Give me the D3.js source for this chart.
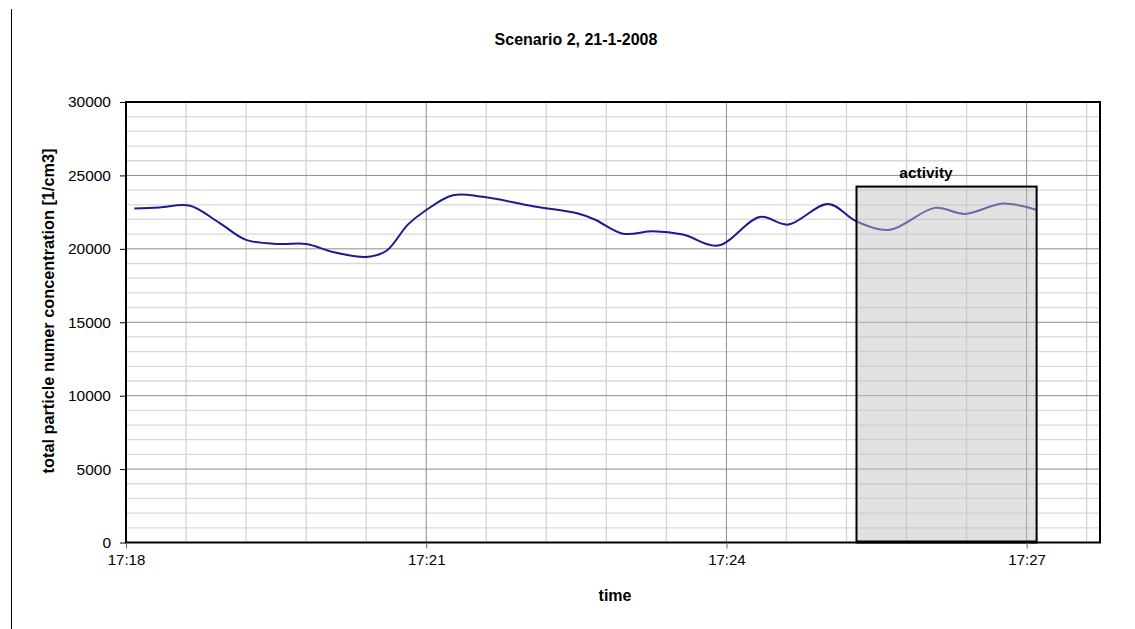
<!DOCTYPE html>
<html>
<head>
<meta charset="utf-8">
<script src="https://cdn.jsdelivr.net/npm/d3@7"></script>
<style>
  body { margin: 0; background: #fff; }
  text { font-family: Arial, "Liberation Sans", sans-serif; fill: #000; }
</style>
</head>
<body>
<svg id="chart"></svg>
<script>
// data
let times = ["17:18:05", "17:18:20", "17:18:38", "17:18:56", "17:19:12", "17:19:32", "17:19:48", "17:20:04",
    "17:20:24", "17:20:36", "17:20:49", "17:20:59", "17:21:16", "17:21:34", "17:22:04", "17:22:31",
    "17:22:41", "17:22:58", "17:23:16", "17:23:34", "17:23:55", "17:24:20", "17:24:37", "17:25:01",
    "17:25:18", "17:25:38", "17:26:05", "17:26:23", "17:26:46", "17:27:06"];
let concentration = [22750, 22820, 22950, 21770, 20610, 20330, 20330, 19790,
    19450, 19850, 21650, 22560, 23650, 23540, 22900, 22400,
    22000, 21030, 21190, 20970, 20220, 22170, 21650, 23060,
    21870, 21300, 22790, 22380, 23080, 22650];

let xTickLabels = ["17:18", "17:21", "17:24", "17:27"];
let yTickValues = [0, 5000, 10000, 15000, 20000, 25000, 30000];

// the shaded "activity" window
let activityStart = "17:25:18";
let activityEnd = "17:27:06";
let activityTop = 24240;

let width = 1135, height = 629;
let plot = { left: 126, right: 1100, top: 102, bottom: 542.5 };

let parse = d3.timeParse("%H:%M:%S");
let parseHM = d3.timeParse("%H:%M");
let data = times.map(function (t, i) { return { t: parse(t), v: concentration[i] } });

let x = d3.scaleTime()
    .domain([parse("17:18:00"), parse("17:27:44")])
    .range([plot.left, plot.right]);

let y = d3.scaleLinear()
    .domain([0, 30000])
    .range([plot.bottom, plot.top]);

let svg = d3.select("#chart")
    .attr("width", width)
    .attr("height", height);

// page edge line on the left
svg.append("line")
    .attr("x1", 11.5).attr("x2", 11.5)
    .attr("y1", 9).attr("y2", height)
    .attr("stroke", "#000");

// minor grid, horizontal every 1000
svg.append("g")
    .selectAll("line")
    .data(d3.range(1000, 30000, 1000).filter(function (d) { return d % 5000 != 0 }))
    .enter().append("line")
    .attr("x1", plot.left).attr("x2", plot.right)
    .attr("y1", function (d) { return y(d) }).attr("y2", function (d) { return y(d) })
    .attr("stroke", "#d9d9d9").attr("stroke-width", 1.3);

// minor grid, vertical every 36 s
let minorT = d3.range(36, 585, 36).filter(function (s) { return s % 180 != 0 })
    .map(function (s) { return new Date(parse("17:18:00").getTime() + s * 1000) });
svg.append("g")
    .selectAll("line")
    .data(minorT)
    .enter().append("line")
    .attr("x1", function (d) { return x(d) }).attr("x2", function (d) { return x(d) })
    .attr("y1", plot.top).attr("y2", plot.bottom)
    .attr("stroke", "#d4d4d4").attr("stroke-width", 1.3);

// major grid
svg.append("g")
    .selectAll("line")
    .data(yTickValues.slice(1, -1))
    .enter().append("line")
    .attr("x1", plot.left).attr("x2", plot.right)
    .attr("y1", function (d) { return y(d) }).attr("y2", function (d) { return y(d) })
    .attr("stroke", "#8c8c8c");

svg.append("g")
    .selectAll("line")
    .data(xTickLabels.slice(1))
    .enter().append("line")
    .attr("x1", function (d) { return x(parseHM(d)) }).attr("x2", function (d) { return x(parseHM(d)) })
    .attr("y1", plot.top).attr("y2", plot.bottom)
    .attr("stroke", "#8c8c8c");

// the series
let line = d3.line()
    .x(function (d) { return x(d.t) })
    .y(function (d) { return y(d.v) })
    .curve(d3.curveCatmullRom.alpha(0.5));

svg.append("path")
    .datum(data)
    .attr("d", line)
    .attr("fill", "none")
    .attr("stroke", "#1c1c8e")
    .attr("stroke-width", 2);

// activity box, semi transparent over grid and line
svg.append("rect")
    .attr("x", x(parse(activityStart)))
    .attr("y", y(activityTop))
    .attr("width", x(parse(activityEnd)) - x(parse(activityStart)))
    .attr("height", y(0) - y(activityTop))
    .attr("fill", "#c0c0c0")
    .attr("fill-opacity", 0.48)
    .attr("stroke", "#000")
    .attr("stroke-width", 2);

svg.append("line")
    .attr("x1", x(parse(activityStart))).attr("x2", x(parse(activityEnd)))
    .attr("y1", y(0) - 1).attr("y2", y(0) - 1)
    .attr("stroke", "#000").attr("stroke-width", 2);

svg.append("text")
    .attr("x", 926)
    .attr("y", y(activityTop) - 9)
    .attr("text-anchor", "middle")
    .attr("font-size", "15.5px")
    .attr("font-weight", "bold")
    .text("activity");

// plot frame
svg.append("rect")
    .attr("x", plot.left).attr("y", plot.top)
    .attr("width", plot.right - plot.left).attr("height", plot.bottom - plot.top)
    .attr("fill", "none")
    .attr("stroke", "#000")
    .attr("stroke-width", 2);

// axes
let xAxis = d3.axisBottom(x)
    .tickValues(xTickLabels.map(parseHM))
    .tickFormat(d3.timeFormat("%H:%M"))
    .tickSize(6)
    .tickPadding(6);

let yAxis = d3.axisLeft(y)
    .tickValues(yTickValues)
    .tickFormat(d3.format("d"))
    .tickSize(6)
    .tickPadding(9);

let gx = svg.append("g")
    .attr("transform", "translate(0," + plot.bottom + ")")
    .call(xAxis);
gx.select(".domain").remove();
gx.selectAll(".tick line").attr("stroke", "#666");
gx.selectAll("text").attr("font-size", "15px").attr("fill", "#000")
    .attr("font-family", "Arial, 'Liberation Sans', sans-serif");

let gy = svg.append("g")
    .attr("transform", "translate(" + plot.left + ",0)")
    .call(yAxis);
gy.select(".domain").remove();
gy.selectAll(".tick line").attr("stroke", "#000");
gy.selectAll("text").attr("font-size", "15.5px").attr("fill", "#000")
    .attr("font-family", "Arial, 'Liberation Sans', sans-serif");

// titles
svg.append("text")
    .attr("x", 576)
    .attr("y", 45)
    .attr("text-anchor", "middle")
    .attr("font-size", "16px")
    .attr("font-weight", "bold")
    .text("Scenario 2, 21-1-2008");

svg.append("text")
    .attr("x", 615)
    .attr("y", 601)
    .attr("text-anchor", "middle")
    .attr("font-size", "16px")
    .attr("font-weight", "bold")
    .text("time");

svg.append("text")
    .attr("transform", "translate(54,311)rotate(-90)")
    .attr("text-anchor", "middle")
    .attr("font-size", "16.3px")
    .attr("font-weight", "bold")
    .text("total particle numer concentration [1/cm3]");
</script>
</body>
</html>
